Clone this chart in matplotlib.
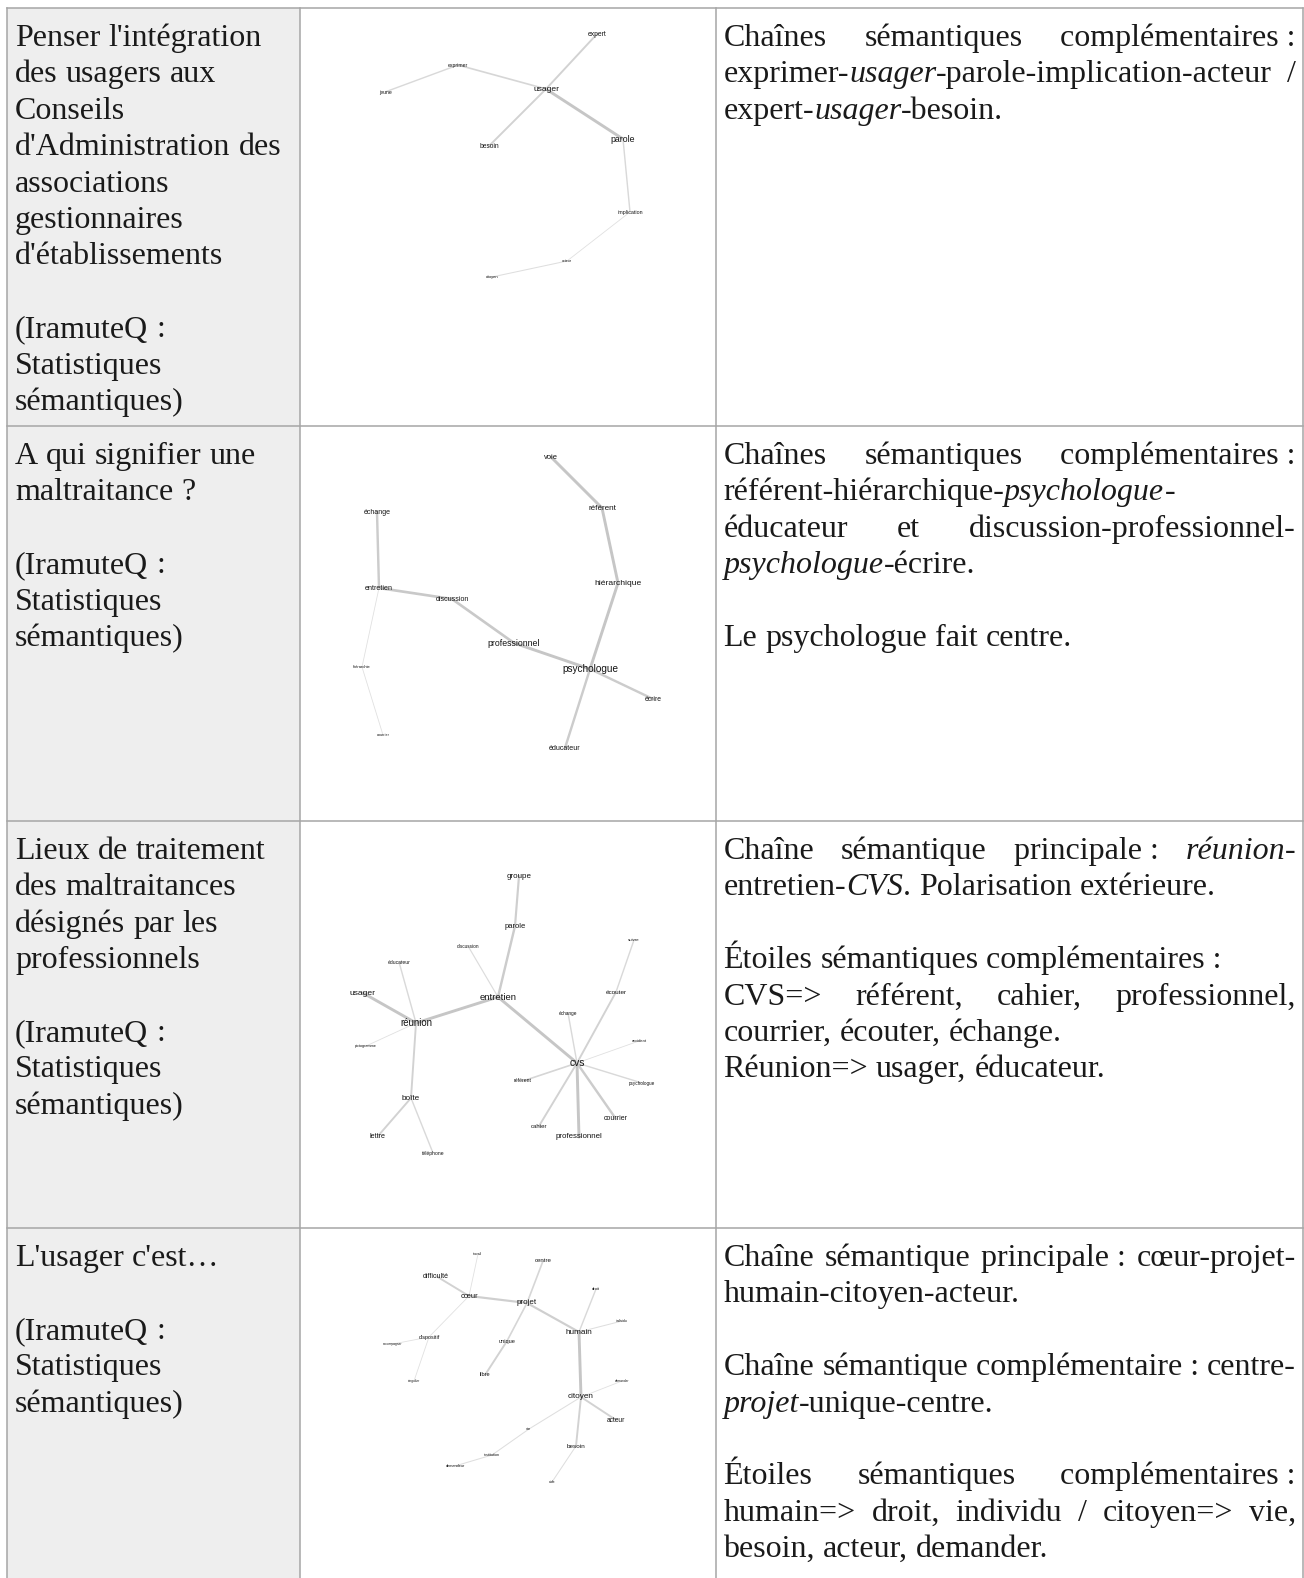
import matplotlib
matplotlib.use('Agg')
import matplotlib.pyplot as plt
from matplotlib.font_manager import FontProperties

# ---- table text -------------------------------------------------------------
left_texts = [
    ["Penser l'intégration", "des usagers aux", "Conseils", "d'Administration des",
     "associations", "gestionnaires", "d'établissements", "",
     "(IramuteQ :", "Statistiques", "sémantiques)"],
    ["A qui signifier une", "maltraitance ?", "", "(IramuteQ :", "Statistiques", "sémantiques)"],
    ["Lieux de traitement", "des maltraitances", "désignés par les", "professionnels", "",
     "(IramuteQ :", "Statistiques", "sémantiques)"],
    ["L'usager c'est…", "", "(IramuteQ :", "Statistiques", "sémantiques)"],
]

# (line, justified) ; *...* = italic, ~ = non-breaking space
right_texts = [
    [("Chaînes sémantiques complémentaires~:", True),
     ("exprimer-*usager*-parole-implication-acteur /", True),
     ("expert-*usager*-besoin.", False)],
    [("Chaînes sémantiques complémentaires~:", True),
     ("référent-hiérarchique-*psychologue*-", False),
     ("éducateur et discussion-professionnel-", True),
     ("*psychologue*-écrire.", False),
     ("", False),
     ("Le psychologue fait centre.", False)],
    [("Chaîne sémantique principale~: *réunion*-", True),
     ("entretien-*CVS*. Polarisation extérieure.", False),
     ("", False),
     ("Étoiles sémantiques complémentaires~:", False),
     ("CVS=> référent, cahier, professionnel,", True),
     ("courrier, écouter, échange.", False),
     ("Réunion=> usager, éducateur.", False)],
    [("Chaîne sémantique principale~: cœur-projet-", True),
     ("humain-citoyen-acteur.", False),
     ("", False),
     ("Chaîne sémantique complémentaire~: centre-", True),
     ("*projet*-unique-centre.", False),
     ("", False),
     ("Étoiles sémantiques complémentaires~:", True),
     ("humain=> droit, individu / citoyen=> vie,", True),
     ("besoin, acteur, demander.", False)],
]

# ---- similarity graphs (IramuteQ) : node name, x, y, label size ------------
g1_nodes = ["usager", "expert", "exprimer", "jeune", "besoin", "parole",
            "implication", "acteur", "citoyen"]
g1_x = [546, 597, 458, 385, 489, 623, 630, 567, 492]
g1_y = [89, 34, 65, 92, 146, 139, 212, 261, 277]
g1_size = [6.1, 4.9, 3.7, 3.7, 4.8, 6.3, 3.8, 2.6, 2.9]
g1_edges = [("usager", "expert", 3), ("usager", "besoin", 3), ("usager", "parole", 5),
            ("usager", "exprimer", 2.5), ("exprimer", "jeune", 2),
            ("parole", "implication", 2), ("implication", "acteur", 0.8),
            ("acteur", "citoyen", 1.2)]

g2_nodes = ["voie", "référent", "hiérarchique", "échange", "entretien", "discussion",
            "professionnel", "psychologue", "écrire", "éducateur", "hiérarchie", "courrier"]
g2_x = [551, 602, 618, 377, 379, 452, 514, 590, 653, 565, 362, 383]
g2_y = [457, 508, 583, 512, 588, 599, 643, 669, 699, 748, 667, 735]
g2_size = [5.4, 5.9, 6.1, 5.0, 5.1, 5.1, 6.3, 7.2, 4.9, 5.1, 3.0, 2.8]
g2_edges = [("voie", "référent", 5), ("référent", "hiérarchique", 5),
            ("hiérarchique", "psychologue", 5), ("psychologue", "professionnel", 5),
            ("professionnel", "discussion", 4.5), ("discussion", "entretien", 4.5),
            ("entretien", "échange", 4), ("entretien", "hiérarchie", 0.8),
            ("hiérarchie", "courrier", 0.8), ("psychologue", "écrire", 4),
            ("psychologue", "éducateur", 4)]

g3_nodes = ["groupe", "parole", "discussion", "éducateur", "usager", "entretien",
            "réunion", "pictogramme", "suivre", "écouter", "échange", "accident", "cvs",
            "référent", "psychologue", "cahier", "courrier", "professionnel",
            "boîte", "lettre", "téléphone"]
g3_x = [519, 515, 468, 399, 363, 498, 416, 366, 634, 616, 568, 639, 577,
        523, 642, 539, 616, 579, 411, 378, 433]
g3_y = [876, 926, 946, 962, 993, 997, 1023, 1046, 940, 992, 1013, 1041, 1063,
        1081, 1083, 1126, 1119, 1137, 1098, 1136, 1153]
g3_size = [5.8, 5.5, 3.4, 3.6, 6.1, 6.8, 6.9, 2.8, 3.2, 4.6, 3.4, 3.0, 7.4,
           3.7, 3.3, 4.3, 5.0, 5.7, 5.9, 5.1, 3.6]
g3_edges = [("groupe", "parole", 3.5), ("parole", "entretien", 4),
            ("discussion", "entretien", 1.5), ("entretien", "réunion", 5),
            ("entretien", "cvs", 5), ("réunion", "usager", 5), ("réunion", "éducateur", 2),
            ("réunion", "pictogramme", 0.8), ("réunion", "boîte", 3), ("boîte", "lettre", 3),
            ("boîte", "téléphone", 2), ("cvs", "écouter", 3), ("écouter", "suivre", 2),
            ("cvs", "échange", 2), ("cvs", "accident", 0.8), ("cvs", "psychologue", 2),
            ("cvs", "référent", 2.5), ("cvs", "cahier", 3), ("cvs", "professionnel", 5),
            ("cvs", "courrier", 4)]

g4_nodes = ["travail", "centre", "difficulté", "cœur", "projet", "droit", "individu",
            "humain", "dispositif", "accompagner", "unique", "singulier", "libre",
            "demander", "citoyen", "acteur", "vie", "besoin", "institution",
            "demandeur", "aide"]
g4_x = [478, 543, 436, 469, 527, 596, 622, 579, 429, 393, 507, 414, 485,
        622, 581, 616, 529, 576, 492, 455, 552]
g4_y = [1254, 1261, 1276, 1296, 1303, 1289, 1321, 1332, 1337, 1344, 1341, 1381, 1375,
        1381, 1397, 1420, 1429, 1446, 1455, 1466, 1482]
g4_size = [2.4, 4.4, 5.0, 5.4, 5.8, 3.0, 2.5, 5.9, 3.9, 2.3, 4.1, 2.3, 4.1,
           2.3, 5.9, 4.8, 3.0, 4.6, 2.8, 2.8, 2.5]
g4_edges = [("travail", "cœur", 0.8), ("difficulté", "cœur", 3), ("cœur", "projet", 3.5),
            ("cœur", "dispositif", 0.8), ("dispositif", "accompagner", 0.8),
            ("dispositif", "singulier", 0.8), ("centre", "projet", 2.5),
            ("projet", "unique", 2.5), ("unique", "libre", 3), ("projet", "humain", 3.5),
            ("humain", "droit", 2), ("humain", "individu", 1.2), ("humain", "citoyen", 5),
            ("citoyen", "demander", 0.8), ("citoyen", "acteur", 3), ("citoyen", "vie", 1.2),
            ("vie", "institution", 1.2), ("institution", "demandeur", 1.2),
            ("citoyen", "besoin", 3), ("besoin", "aide", 1.2)]

graphs = [(g1_nodes, g1_x, g1_y, g1_size, g1_edges),
          (g2_nodes, g2_x, g2_y, g2_size, g2_edges),
          (g3_nodes, g3_x, g3_y, g3_size, g3_edges),
          (g4_nodes, g4_x, g4_y, g4_size, g4_edges)]

# ---- layout -----------------------------------------------------------------
W, H = 1304, 1578
row_tops = [8, 426, 821, 1228]
col_x = [6.5, 300, 716, 1303]
border = '#a6a6a6'
line_h = 36.4

fig = plt.figure(figsize=(W / 100, H / 100), dpi=100)
ax = fig.add_axes([0, 0, 1, 1])
ax.set_xlim(0, W)
ax.set_ylim(H, 0)
ax.axis('off')

# shaded first column + grid
ax.add_patch(plt.Rectangle((col_x[0], row_tops[0]), col_x[1] - col_x[0], H - row_tops[0],
                           facecolor='#eeeeee', edgecolor='none', zorder=0))
for x in col_x:
    ax.plot([x, x], [row_tops[0], H], color=border, lw=1.1, zorder=1)
for y in row_tops:
    ax.plot([col_x[0], col_x[-1]], [y, y], color=border, lw=1.1, zorder=1)

serif = {False: FontProperties(family='Liberation Serif', size=23),
         True: FontProperties(family='Liberation Serif', size=23, style='italic')}
renderer = fig.canvas.get_renderer()


def text_w(s, prop):
    return renderer.get_text_width_height_descent(s, prop, ismath=False)[0]


space_w = text_w("a a", serif[False]) - text_w("aa", serif[False])


def parse(line):
    words, italic = [], False
    for raw in line.split(' '):
        segs, buf = [], ''
        for ch in raw:
            if ch == '*':
                if buf:
                    segs.append((buf.replace('~', '\u00a0'), italic))
                    buf = ''
                italic = not italic
            else:
                buf += ch
        if buf:
            segs.append((buf.replace('~', '\u00a0'), italic))
        words.append(segs)
    return words


def draw_line(x0, x1, y, line, justify):
    if not line:
        return
    words = parse(line)
    widths = [sum(text_w(t, serif[it]) for t, it in segs) for segs in words]
    sp = space_w
    if justify and len(words) > 1:
        sp = (x1 - x0 - sum(widths)) / (len(words) - 1)
    x = x0
    for segs in words:
        for t, it in segs:
            ax.text(x, y, t, fontproperties=serif[it], ha='left', va='baseline',
                    color='#1a1a1a', zorder=4)
            x += text_w(t, serif[it])
        x += sp


for r, top in enumerate(row_tops):
    base = top + 38
    for i, line in enumerate(left_texts[r]):
        draw_line(15, 292, base + i * line_h, line, False)
    for i, (line, just) in enumerate(right_texts[r]):
        draw_line(723.5, 1296, base + i * line_h, line, just)

# ---- network graphs ---------------------------------------------------------
for names, xs, ys, sizes, edges in graphs:
    pos = {n: (x, y) for n, x, y in zip(names, xs, ys)}
    for a, b, w in edges:
        g = 0.9 - 0.025 * w
        ax.plot([pos[a][0], pos[b][0]], [pos[a][1], pos[b][1]],
                color=(g, g, g), lw=0.3 + 0.36 * w, solid_capstyle='round', zorder=2)
    for n, x, y, s in zip(names, xs, ys, sizes):
        ax.text(x, y, n, ha='center', va='center', fontsize=s,
                family='Liberation Sans', color='#141414', zorder=3)

fig.savefig('out.png', dpi=100, facecolor='white')
